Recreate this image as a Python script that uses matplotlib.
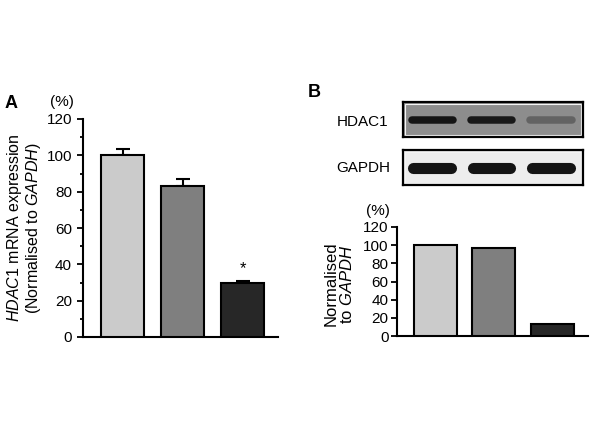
import matplotlib
matplotlib.use("Agg")
import matplotlib.pyplot as plt
from matplotlib.ticker import MultipleLocator
from matplotlib.patches import Rectangle

plt.rcParams['font.family'] = ['Liberation Sans', 'DejaVu Sans']
plt.rcParams['mathtext.fontset'] = 'custom'
plt.rcParams['mathtext.rm'] = 'Liberation Sans'
plt.rcParams['mathtext.it'] = 'Liberation Sans:italic'

# ---- data ----
groups = [0, 1, 2]
mrna_values = [100, 83, 30]
mrna_errors = [3.5, 3.7, 1.0]
protein_values = [100, 97, 13]
hdac1_band_intensity = [1.0, 0.97, 0.35]
gapdh_band_intensity = [1.0, 1.0, 1.0]
bar_colors = ['#cbcbcb', '#7f7f7f', '#272727']
yticks_a = [0, 20, 40, 60, 80, 100, 120]
yticks_b = [0, 20, 40, 60, 80, 100, 120]

W, H = 600, 447
fig = plt.figure(figsize=(6.0, 4.47), dpi=100)


def rect(l, r, t, b):
    return [l / W, 1 - b / H, (r - l) / W, (b - t) / H]


def ftext(x, y, s, **kw):
    fig.text(x / W, 1 - y / H, s, **kw)


def style_axes(ax, pad):
    for sp in ['top', 'right']:
        ax.spines[sp].set_visible(False)
    for sp in ['left', 'bottom']:
        ax.spines[sp].set_linewidth(1.5)
    ax.tick_params(axis='y', which='major', direction='out', length=4,
                   width=1.3, labelsize=11, pad=pad)
    ax.tick_params(axis='x', which='both', bottom=False, labelbottom=False)


# ---- Panel A ----
axA = fig.add_axes(rect(83, 278, 119, 337))
axA.bar(groups, mrna_values, width=0.72, color=bar_colors, edgecolor='black',
        linewidth=1.5, zorder=3)
axA.errorbar(groups, mrna_values, yerr=[[0] * 3, mrna_errors], fmt='none',
             ecolor='black', elinewidth=1.5, capsize=5, capthick=1.5, zorder=2)
axA.text(groups[2], mrna_values[2] + mrna_errors[2] + 6.5, '*', ha='center',
         va='center', fontsize=12)
axA.set_ylim(0, 120)
axA.set_xlim(-0.66, 2.59)
axA.set_yticks(yticks_a)
axA.yaxis.set_minor_locator(MultipleLocator(10))
axA.tick_params(axis='y', which='minor', direction='out', length=2.5, width=1.3)
style_axes(axA, pad=4)

ftext(11, 103.5, 'A', fontsize=13, fontweight='bold', ha='center', va='center')
ftext(62, 102, '(%)', fontsize=11, ha='center', va='center')
ftext(24, 228, '$\\mathit{HDAC1}$ mRNA expression\n(Normalised to $\\mathit{GAPDH}$)',
      fontsize=11.5, rotation=90, ha='center', va='center', linespacing=1.05,
      multialignment='center')

# ---- Panel B: blots ----
def blot(box, bg, intensities, thickness_pt, ypos):
    ax = fig.add_axes(box)
    ax.set_facecolor(bg)
    ax.set_xlim(-0.49, 2.54)
    ax.set_ylim(0, 1)
    ax.set_xticks([])
    ax.set_yticks([])
    for sp in ax.spines.values():
        sp.set_linewidth(1.6)
        sp.set_color('black')
    ax.add_patch(Rectangle((0.012, 0.06), 0.976, 0.88, transform=ax.transAxes,
                           fill=False, edgecolor='#f4f4f4', lw=0.8))
    bgv = int(bg[1:3], 16) / 255.0
    half = 0.41
    cap = thickness_pt / 2 / 72 * 100 / (box[2] * W / 3.03)
    for g, inten in zip(groups, intensities):
        v = bgv * (1 - inten) + 0.08 * inten
        c = (v, v, v)
        ax.plot([g - half + cap, g + half - cap], [ypos, ypos], color=c,
                lw=thickness_pt, solid_capstyle='round')
    return ax


blot(rect(403, 583, 102, 137), '#8d8d8d', hdac1_band_intensity, 5.4, 0.5)
blot(rect(403, 583, 150, 185), '#ededed', gapdh_band_intensity, 8.0, 0.5)

ftext(363, 122, 'HDAC1', fontsize=11, ha='center', va='center')
ftext(363, 168, 'GAPDH', fontsize=11, ha='center', va='center')
ftext(314, 92.5, 'B', fontsize=13, fontweight='bold', ha='center', va='center')

# ---- Panel B: bar chart ----
axB = fig.add_axes(rect(397, 588, 227, 336))
axB.bar(groups, protein_values, width=0.735, color=bar_colors,
        edgecolor='black', linewidth=1.5, zorder=3)
axB.set_ylim(0, 120)
axB.set_xlim(-0.66, 2.61)
axB.set_yticks(yticks_b)
style_axes(axB, pad=2)

ftext(377.5, 211, '(%)', fontsize=11, ha='center', va='center')
ftext(339.5, 284, 'Normalised\nto $\\mathit{GAPDH}$', fontsize=12, rotation=90,
      ha='center', va='center', linespacing=1.0, multialignment='center')

fig.savefig('out.png', dpi=100)
